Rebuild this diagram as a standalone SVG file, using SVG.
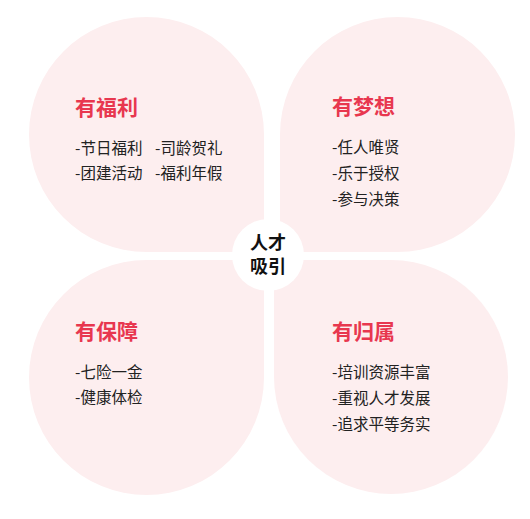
<svg xmlns="http://www.w3.org/2000/svg" width="530" height="519" viewBox="0 0 530 519">
<style>
.petal{fill:#fdeeef}
.title{font-family:"Noto Sans CJK SC","Noto Sans",sans-serif;font-size:21px;font-weight:bold;fill:#e8374f}
.item{font-family:"Noto Sans CJK SC","Noto Sans",sans-serif;font-size:15.5px;fill:#222}
.center{font-family:"Noto Sans CJK SC","Noto Sans",sans-serif;font-size:18px;font-weight:bold;fill:#111;text-anchor:middle}
</style>
<rect width="530" height="519" fill="#fff"/>
<g id="node-fuli">
<path class="petal" d="M264 252 L146.5 252 A117.5 117.5 0 0 1 29 134.5 A117.5 117.5 0 0 1 146.5 17 A117.5 117.5 0 0 1 264 134.5 Z"/>
<text class="title" x="75" y="115">有福利</text>
<text class="item" x="75" y="154">-节日福利</text>
<text class="item" x="155" y="154">-司龄贺礼</text>
<text class="item" x="75" y="179">-团建活动</text>
<text class="item" x="155" y="179">-福利年假</text>
</g>
<g id="node-mengxiang">
<path class="petal" d="M280 252 L280 134.5 A117.5 117.5 0 0 1 397.5 17 A117.5 117.5 0 0 1 515 134.5 A117.5 117.5 0 0 1 397.5 252 Z"/>
<text class="title" x="332" y="114">有梦想</text>
<text class="item" x="332" y="153">-任人唯贤</text>
<text class="item" x="332" y="179">-乐于授权</text>
<text class="item" x="332" y="205">-参与决策</text>
</g>
<g id="node-baozhang">
<path class="petal" d="M264 260 L264 377.5 A117.5 117.5 0 0 1 146.5 495 A117.5 117.5 0 0 1 29 377.5 A117.5 117.5 0 0 1 146.5 260 Z"/>
<text class="title" x="75" y="339">有保障</text>
<text class="item" x="75" y="378">-七险一金</text>
<text class="item" x="75" y="403">-健康体检</text>
</g>
<g id="node-guishu">
<path class="petal" d="M274 260 L391 260 A117 117 0 0 1 508 377 A117 117 0 0 1 391 494 A117 117 0 0 1 274 377 Z"/>
<text class="title" x="332" y="339">有归属</text>
<text class="item" x="332" y="378">-培训资源丰富</text>
<text class="item" x="332" y="404">-重视人才发展</text>
<text class="item" x="332" y="430">-追求平等务实</text>
</g>
<g id="connectors"></g>
<g id="node-center">
<circle cx="268" cy="255" r="36" fill="#fff"/>
<text class="center" x="268" y="249">人才</text>
<text class="center" x="268" y="273">吸引</text>
</g>
</svg>
